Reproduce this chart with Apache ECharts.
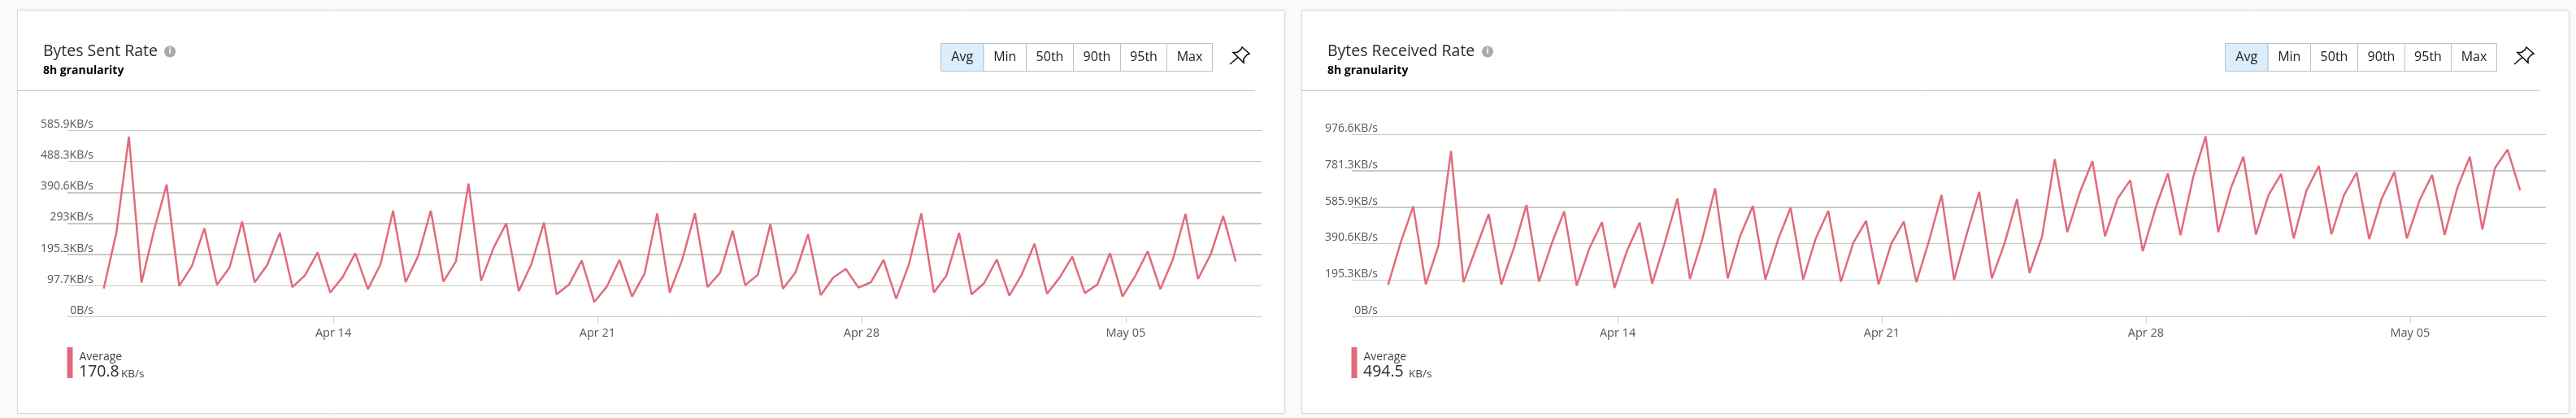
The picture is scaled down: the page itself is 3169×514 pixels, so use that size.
<!DOCTYPE html>
<html>
<head>
<meta charset="utf-8">
<style>
  html, body { margin: 0; padding: 0; background: #fafafa; }
  #chart { width: 3169px; height: 514px; }
</style>
<script src="https://cdn.jsdelivr.net/npm/echarts@6/dist/echarts.min.js"></script>
</head>
<body>
<div id="chart"></div>
<script>
// KB/s, one reading every 8h
const sentRate = [87.8, 262.7, 565.4, 106.6, 271.2, 414.5, 95.5, 157.8, 277.2, 98.9, 153.5, 298.5, 106.6, 162, 262.7, 92.1,
  128.8, 201.3, 75, 123.7, 198.7, 85.3, 163.7, 332.6, 107.5, 190.2, 332.6, 109.2, 173.1, 417.9, 111.7, 215.8, 292.5, 79.3,
  164.6, 295.1, 69.1, 100.6, 175.7, 45.2, 93.8, 177.4, 62.3, 134.7, 324.1, 75, 179.1, 324.1, 92.1, 137.3, 269.5, 98.1,
  130.5, 290, 87, 138.2, 258.4, 66.5, 122, 149.2, 90.4, 107.5, 177.4, 55.4, 162, 324.1, 75, 128.8, 262.7, 69.1, 104.9,
  179.1, 64.8, 133, 228.6, 70.8, 122, 187.6, 73.3, 100.6, 198.7, 62.3, 126.2, 204.7, 85.3, 179.1, 322.4, 117.7, 194.4,
  315.5, 172.3]
const receivedRate = [168.3, 396.2, 589.1, 171.2, 377.3, 886.6, 182.8, 367.1, 548.5, 171.2, 367.1, 596.4, 185.7, 388.9,
  563, 164, 364.2, 505, 152.4, 352.6, 502.1, 175.6, 396.2, 631.2, 200.3, 417.9, 686.4, 203.2, 432.4, 592, 197.4, 410.7,
  581.9, 197.4, 417.9, 565.9, 185.7, 396.2, 512.2, 171.2, 388.9, 507.9, 182.8, 403.4, 650.1, 195.9, 439.7, 667.5, 203.2,
  388.9, 628.3, 232.2, 429.5, 843.1, 451.3, 664.6, 831.5, 429.5, 631.2, 729.9, 349.7, 577.5, 766.2, 435.3, 744.4, 965,
  451.3, 686.4, 856.1, 438.2, 650.1, 763.3, 417.9, 671.9, 806.8, 439.7, 650.1, 770.5, 413.6, 631.2, 773.4, 417.9, 621.1,
  758.9, 436.8, 686.4, 856.1, 465.8, 795.2, 893.9, 674.8]

const sentTicks = ['0B/s', '97.7KB/s', '195.3KB/s', '293KB/s', '390.6KB/s', '488.3KB/s', '585.9KB/s']
const receivedTicks = ['0B/s', '195.3KB/s', '390.6KB/s', '585.9KB/s', '781.3KB/s', '976.6KB/s']
const dateLabels = ['Apr 14', 'Apr 21', 'Apr 28', 'May 05']
const dateTicks = [Date.UTC(2019, 3, 14), Date.UTC(2019, 3, 21), Date.UTC(2019, 3, 28), Date.UTC(2019, 4, 5)]
const buttonLabels = ['Avg', 'Min', '50th', '90th', '95th', 'Max']
const buttonEdges = [1157.5, 1210, 1262.5, 1320.5, 1378.5, 1435.5, 1491.5]

const EIGHT_HOURS = 8 * 3600 * 1000
const firstTime = Date.UTC(2019, 3, 7, 22)
const xMin = Date.UTC(2019, 3, 6, 22, 55)
const xMax = Date.UTC(2019, 4, 8, 14, 25)

const OFFSET = 1580 // the second card is the first one moved right
const FONT = '"Open Sans", sans-serif'
const LINE = '#e16b7c'
const GRID = '#c8c8c8'

const panels = [
  { title: 'Bytes Sent Rate', iconX: 209, average: '170.8', unitX: 149, data: sentRate, ticks: sentTicks, step: 97.65, top: 160, thick: [2, 3, 4] },
  { title: 'Bytes Received Rate', iconX: 250, average: '494.5', unitX: 153, data: receivedRate, ticks: receivedTicks, step: 195.32, top: 165, thick: [3, 4, 5] }
]

function label (text, x, y, font, fill, align) {
  return {
    type: 'text',
    z: 5,
    style: { text, x, y, fill, font: font + ' ' + FONT, verticalAlign: 'middle', align: align || 'left' }
  }
}

// push pin, drawn around its top left corner
function pin (x, y) {
  const head = [[15, 1], [24, 9], [21, 10.5], [17, 15], [17, 20], [4, 7.5], [9, 7.5], [13.5, 4]]
  return [
    { type: 'polygon', z: 5, shape: { points: head.map(q => [q[0] + x, q[1] + y]) }, style: { fill: '#fff', stroke: '#111', lineWidth: 1.6 } },
    { type: 'line', z: 5, shape: { x1: x + 10, y1: 13.5 + y, x2: x, y2: 22 + y }, style: { stroke: '#111', lineWidth: 1.6 } }
  ]
}

// card, header text, the button row and the legend
function panelGraphics (p, i) {
  const dx = i * OFFSET
  const out = [
    { type: 'rect', z: 0, shape: { x: 21.5 + dx, y: 12.5, width: 1559, height: 496 }, style: { fill: '#fff', stroke: '#d8d8d8', lineWidth: 1, shadowBlur: 5, shadowColor: 'rgba(0,0,0,0.05)' } },
    { type: 'line', z: 1, shape: { x1: 21 + dx, y1: 111.5, x2: 1544 + dx, y2: 111.5 }, style: { stroke: GRID, lineWidth: 1 } },
    label(p.title, 53 + dx, 63.5, '19.5px', '#2b2b2b'),
    { type: 'circle', z: 5, shape: { cx: p.iconX + dx, cy: 63.5, r: 7 }, style: { fill: '#aaa' } },
    label('i', p.iconX + dx, 63.5, 'bold 10px', '#fff', 'center'),
    label('8h granularity', 53 + dx, 87, 'bold 14px', '#000'),
    { type: 'rect', z: 5, shape: { x: 82.5 + dx, y: 427, width: 7, height: 38 }, style: { fill: LINE } },
    label('Average', 97.5 + dx, 439, '14px', '#444'),
    label(p.average, 97 + dx, 457, '19.5px', '#2b2b2b'),
    label('KB/s', p.unitX + dx, 460, '13.5px', '#444')
  ].concat(pin(1513 + dx, 57))
  buttonLabels.forEach((name, b) => {
    const x1 = buttonEdges[b] + dx
    const x2 = buttonEdges[b + 1] + dx
    out.push({ type: 'rect', z: 3, shape: { x: x1, y: 53.5, width: x2 - x1, height: 34 }, style: { fill: b === 0 ? '#dcedfc' : '#fff', stroke: '#bcc2c8', lineWidth: 1 } })
    out.push(label(name, (x1 + x2) / 2, 70, '16px', '#222', 'center'))
  })
  return out
}

const chart = echarts.init(document.getElementById('chart'))

chart.setOption({
  animation: false,
  backgroundColor: '#fafafa',
  graphic: panels.flatMap(panelGraphics),
  grid: panels.map((p, i) => ({ left: 83 + i * OFFSET, width: 1469, top: p.top, height: 389 - p.top })),
  xAxis: panels.map((p, i) => ({
    type: 'value',
    gridIndex: i,
    min: xMin,
    max: xMax,
    axisLine: { onZero: false, lineStyle: { color: GRID } },
    axisTick: { length: 8, lineStyle: { color: GRID }, customValues: dateTicks },
    splitLine: { show: false },
    axisLabel: {
      customValues: dateTicks,
      formatter: v => dateLabels[dateTicks.indexOf(v)],
      color: '#555',
      fontFamily: FONT,
      fontSize: 14.5,
      margin: 13
    }
  })),
  yAxis: panels.map((p, i) => ({
    type: 'value',
    gridIndex: i,
    min: 0,
    max: p.step * (p.ticks.length - 1),
    interval: p.step,
    axisLine: { show: false },
    axisTick: { show: false },
    splitLine: { lineStyle: { color: GRID, width: 1 } },
    axisLabel: {
      formatter: (v, k) => p.ticks[k],
      color: '#555',
      fontFamily: FONT,
      fontSize: 14,
      margin: -32,
      align: 'right',
      verticalAlign: 'bottom'
    }
  })),
  series: panels.map((p, i) => ({
    type: 'line',
    xAxisIndex: i,
    yAxisIndex: i,
    data: p.data.map((v, k) => [firstTime + k * EIGHT_HOURS, v]),
    symbol: 'none',
    z: 3,
    lineStyle: { color: LINE, width: 2.5 },
    markLine: {
      silent: true,
      animation: false,
      z: 1,
      symbol: ['none', 'none'],
      label: { show: false },
      lineStyle: { color: GRID, width: 2, type: 'solid' },
      data: p.thick.map(k => ({ yAxis: k * p.step }))
    }
  }))
})
</script>
</body>
</html>
